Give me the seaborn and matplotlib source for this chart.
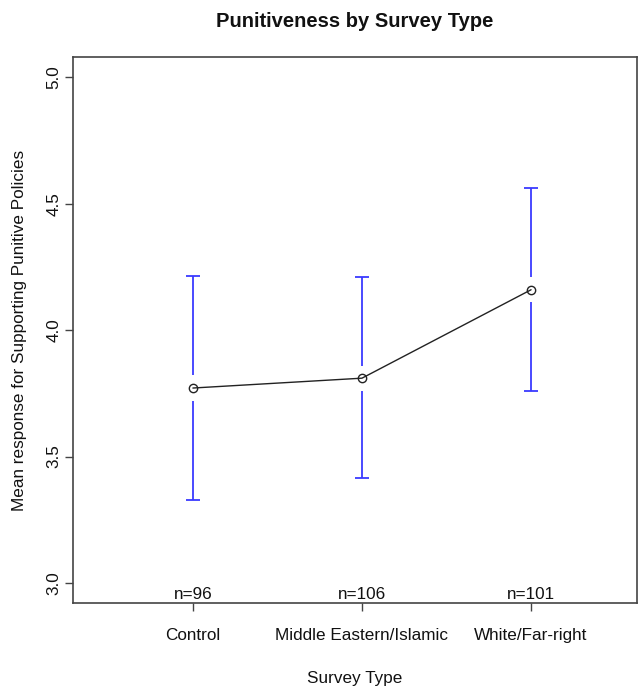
import pandas as pd
import seaborn as sns
import matplotlib
matplotlib.use("Agg")
from matplotlib import pyplot as plt

# values
survey_types = ["Control", "Middle Eastern/Islamic", "White/Far-right"]
mean_response = [3.771, 3.810, 4.160]
ci_upper = [4.215, 4.209, 4.561]
ci_lower = [3.328, 3.415, 3.759]
n_labels = ["n=96", "n=106", "n=101"]
y_ticks = [3.0, 3.5, 4.0, 4.5, 5.0]

sns.set_style("white")
plt.rcParams["font.family"] = ["Liberation Sans", "DejaVu Sans"]
plt.rcParams["text.color"] = "#111111"
plt.rcParams["axes.labelcolor"] = "#111111"
plt.rcParams["xtick.color"] = "#111111"
plt.rcParams["ytick.color"] = "#111111"

df = pd.DataFrame({"survey": survey_types, "mean": mean_response,
                   "upper": ci_upper, "lower": ci_lower})

fig = plt.figure(figsize=(6.39, 6.90), dpi=100)
ax = fig.add_axes([0.114, 0.126, 0.883, 0.791])

# blue intervals, broken around the mean point like gplots::plotmeans
gap = 0.05
ax.vlines(df["survey"], df["mean"] + gap, df["upper"], color="#3a3aff", lw=1.3)
ax.vlines(df["survey"], df["lower"], df["mean"] - gap, color="#3a3aff", lw=1.3)
for x, lo, hi in zip(range(len(survey_types)), df["lower"], df["upper"]):
    ax.hlines([lo, hi], x - 0.042, x + 0.042, color="#3a3aff", lw=1.3)

sns.lineplot(data=df, x="survey", y="mean", ax=ax, color="#222222", lw=1.0,
             marker="o", markersize=6, markerfacecolor="none",
             markeredgecolor="#222222", markeredgewidth=1.0, sort=False)

for x, lab in enumerate(n_labels):
    ax.text(x, 2.925, lab, ha="center", va="bottom", fontsize=12.3)

ax.set_xlim(-0.71, 2.627)
ax.set_ylim(2.92, 5.08)
ax.set_yticks(y_ticks)
ax.set_yticklabels([f"{t:.1f}" for t in y_ticks], rotation=90, va="center")
ax.tick_params(axis="both", length=6, width=1, color="#444444",
               direction="out", labelsize=12.3, bottom=True, left=True)
ax.tick_params(axis="x", pad=12)
ax.tick_params(axis="y", pad=2)
for sp in ax.spines.values():
    sp.set_color("#444444")
    sp.set_linewidth(1.2)

ax.set_xlabel("Survey Type", fontsize=12.3, labelpad=20)
ax.set_ylabel("Mean response for Supporting Punitive Policies", fontsize=12.3, labelpad=14)
fig.suptitle("Punitiveness by Survey Type", fontsize=14.5, fontweight="bold",
             x=0.555, y=0.983)

fig.savefig("out.png", dpi=100)
